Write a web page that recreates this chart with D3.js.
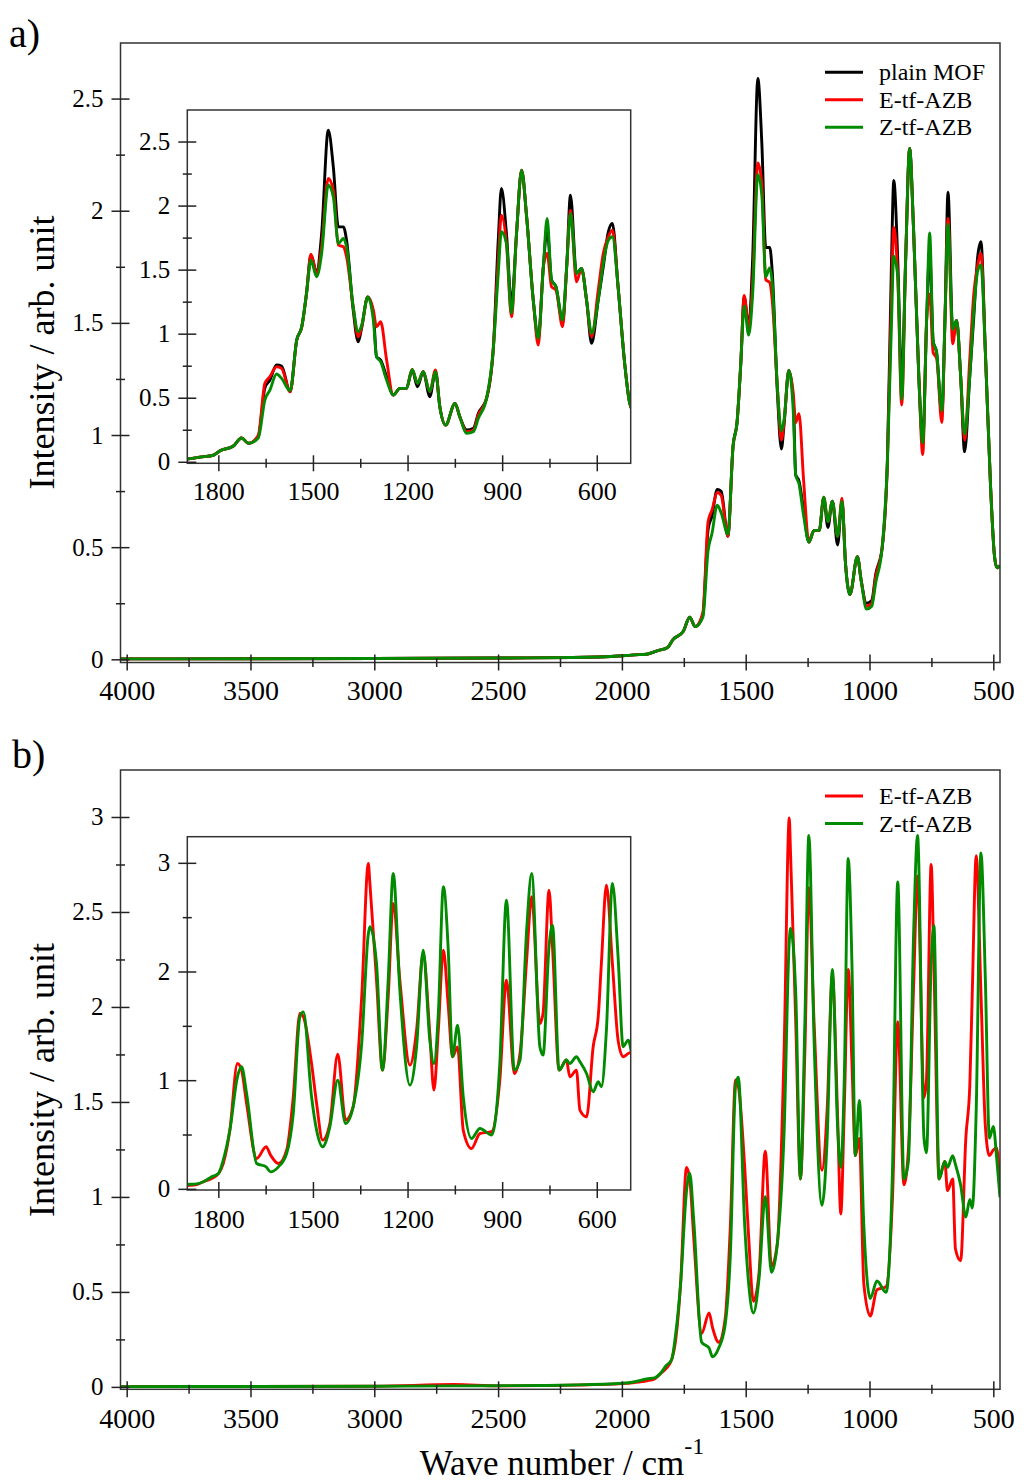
<!DOCTYPE html>
<html><head><meta charset="utf-8">
<script src="https://cdn.jsdelivr.net/npm/d3@7"></script>
<style>body{margin:0;background:#fff}svg{display:block}</style>
</head><body>
<svg id="chart" width="1029" height="1483"></svg>
<script>
// ---------- DATA ----------
// Panel a: wavenumber grid (cm^-1) and three series
const wnA = [4025,3800,3500,3000,2500,2200,2000,1950,1902,1860,1817,1796,1754,1728,1706,1675,1654,1638,1617,1601,1574,1553,1537,1522,1508,1490,1474,1453,1437,1421,1405,1395,1374,1358,1347,1328,1310,1300,1287,1268,1247,1226,1205,1187,1170,1152,1131,1113,1099,1081,1051,1036,1014,993,977,951,930,914,904,888,872,856,840,824,803,787,771,759,745,731,710,697,685,666,650,634,618,597,581,565,552,534,513,497,487,475];
const plainMOF = [0.004,0.004,0.005,0.006,0.008,0.010,0.018,0.022,0.025,0.040,0.055,0.090,0.127,0.190,0.148,0.200,0.580,0.642,0.759,0.751,0.551,0.954,1.058,1.318,1.617,1.487,1.786,2.592,2.306,1.838,1.838,1.734,1.190,0.940,1.050,1.290,1.162,0.824,0.798,0.668,0.525,0.577,0.577,0.720,0.590,0.707,0.512,0.707,0.430,0.291,0.460,0.356,0.252,0.265,0.382,0.499,0.876,1.734,2.137,1.786,1.240,1.786,2.280,1.916,1.266,0.980,1.526,1.825,1.422,1.370,1.097,1.526,2.085,1.474,1.513,1.266,0.928,1.266,1.526,1.799,1.864,1.370,0.770,0.460,0.410,0.420];
const eTfAzbA = [0.004,0.004,0.005,0.006,0.008,0.010,0.018,0.022,0.025,0.040,0.055,0.090,0.127,0.190,0.148,0.210,0.616,0.668,0.746,0.733,0.551,0.954,1.058,1.318,1.625,1.474,1.682,2.215,2.124,1.695,1.682,1.604,1.214,0.980,1.060,1.290,1.188,1.058,1.097,0.798,0.525,0.577,0.577,0.725,0.616,0.707,0.550,0.720,0.430,0.291,0.460,0.356,0.239,0.252,0.370,0.499,0.876,1.578,1.929,1.708,1.136,1.786,2.280,1.916,1.266,0.915,1.526,1.630,1.370,1.344,1.058,1.526,1.968,1.409,1.513,1.266,0.980,1.344,1.630,1.760,1.812,1.370,0.770,0.460,0.410,0.420];
const zTfAzbA = [0.004,0.004,0.005,0.006,0.008,0.010,0.018,0.022,0.025,0.040,0.055,0.090,0.127,0.190,0.148,0.190,0.486,0.564,0.689,0.655,0.560,0.954,1.058,1.318,1.578,1.448,1.630,2.163,2.072,1.708,1.747,1.682,1.214,1.020,1.070,1.290,1.110,0.824,0.785,0.642,0.525,0.577,0.577,0.725,0.616,0.707,0.550,0.707,0.430,0.291,0.460,0.356,0.226,0.239,0.343,0.499,0.876,1.474,1.799,1.708,1.162,1.786,2.280,1.916,1.266,0.967,1.526,1.903,1.422,1.370,1.110,1.526,1.942,1.474,1.513,1.266,1.006,1.266,1.552,1.734,1.760,1.370,0.770,0.460,0.410,0.420];

// Panel b: wavenumber grid and two series
const wnB = [4025,3500,3000,2680,2500,2200,2000,1950,1902,1870,1849,1823,1801,1786,1765,1741,1728,1712,1680,1650,1636,1611,1585,1564,1543,1532,1506,1490,1471,1448,1423,1398,1374,1347,1326,1321,1300,1281,1263,1247,1226,1194,1173,1152,1131,1118,1104,1088,1073,1059,1043,1025,999,972,935,909,888,863,845,824,808,782,772,753,742,721,698,687,666,655,634,613,597,587,571,552,534,518,502,488,475];
const eTfAzbB = [0.004,0.005,0.006,0.015,0.008,0.012,0.020,0.026,0.035,0.045,0.070,0.100,0.146,0.238,0.545,1.158,1.097,0.790,0.284,0.392,0.315,0.238,0.361,0.851,1.618,1.587,1.158,0.790,0.453,0.606,1.244,0.637,0.760,1.772,2.998,2.814,1.925,1.097,1.772,2.630,1.925,1.143,1.465,2.170,1.434,0.913,1.465,2.200,1.710,1.220,1.310,0.545,0.376,0.514,0.530,1.005,1.925,1.066,1.250,2.109,2.692,1.526,1.618,2.753,2.232,1.097,1.190,1.036,1.097,0.729,0.667,1.312,1.588,2.078,2.799,2.078,1.373,1.220,1.250,1.260,1.020];
const zTfAzbB = [0.004,0.005,0.006,0.008,0.009,0.013,0.022,0.030,0.045,0.050,0.070,0.115,0.146,0.269,0.545,1.035,1.128,0.882,0.238,0.207,0.161,0.207,0.330,0.698,1.587,1.633,0.852,0.545,0.392,0.575,1.005,0.606,0.760,1.342,2.350,2.416,2.078,1.097,1.925,2.906,1.833,0.959,1.312,2.200,1.373,1.158,1.618,2.784,2.232,1.220,1.511,0.852,0.468,0.560,0.500,1.158,2.661,1.097,1.189,2.385,2.906,1.312,1.235,2.232,2.431,1.097,1.190,1.158,1.220,1.174,1.066,0.897,0.990,0.944,1.465,2.814,2.140,1.312,1.373,1.200,1.000];

// Tick values and labels
const mainXTicks = [4000,3500,3000,2500,2000,1500,1000,500];
const mainXMinor = [3750,3250,2750,2250,1750,1250,750];
const insetXTicks = [1800,1500,1200,900,600];
const insetXMinor = [1650,1350,1050,750];
const yTicksA = [0,0.5,1,1.5,2,2.5];
const yMinorA = [0.25,0.75,1.25,1.75,2.25];
const yTicksB = [0,0.5,1,1.5,2,2.5,3];
const yMinorB = [0.25,0.75,1.25,1.75,2.25,2.75];
const insetYTicksB = [0,1,2,3];
const insetYMinorB = [0.5,1.5,2.5];

const legendA = ["plain MOF","E-tf-AZB","Z-tf-AZB"];
const legendB = ["E-tf-AZB","Z-tf-AZB"];
const colBlack = "#000000", colRed = "#ff0000", colGreen = "#008b00";

// ---------- DRAW ----------
const svg = d3.select("#chart");
const FONT = "'Liberation Serif','Times New Roman',serif";
let clipId = 0;

function drawBox(cfg) {
  const g = svg.append("g");
  const x = d3.scaleLinear().domain(cfg.xDomain).range([cfg.left, cfg.right]);
  const y = d3.scaleLinear().domain(cfg.yDomain).range([cfg.bottom, cfg.top]);
  g.append("rect").attr("x", cfg.left).attr("y", cfg.top)
    .attr("width", cfg.right - cfg.left).attr("height", cfg.bottom - cfg.top)
    .attr("fill", "#fff");
  const id = "clip" + (clipId++);
  svg.append("clipPath").attr("id", id).append("rect")
    .attr("x", cfg.left).attr("y", cfg.top)
    .attr("width", cfg.right - cfg.left).attr("height", cfg.bottom - cfg.top);
  const lines = g.append("g").attr("clip-path", `url(#${id})`);
  const line = d3.line().x(d => x(d[0])).y(d => y(d[1])).curve(d3.curveMonotoneX);
  cfg.series.forEach(s => {
    lines.append("path").datum(s.wn.map((w, i) => [w, s.vals[i]]))
      .attr("d", line).attr("fill", "none").attr("stroke", s.color)
      .attr("stroke-width", 2.9).attr("stroke-linejoin", "round");
  });
  g.append("rect").attr("x", cfg.left).attr("y", cfg.top)
    .attr("width", cfg.right - cfg.left).attr("height", cfg.bottom - cfg.top)
    .attr("fill", "none").attr("stroke", "#333").attr("stroke-width", 1.5);
  const tk = g.append("g").attr("stroke", "#222").attr("stroke-width", 1.5);
  cfg.xMajor.forEach(v => tk.append("line").attr("x1", x(v)).attr("x2", x(v)).attr("y1", cfg.bottom - 8).attr("y2", cfg.bottom + 8));
  cfg.xMinor.forEach(v => tk.append("line").attr("x1", x(v)).attr("x2", x(v)).attr("y1", cfg.bottom - 4.5).attr("y2", cfg.bottom + 4.5));
  cfg.yMajor.forEach(v => tk.append("line").attr("y1", y(v)).attr("y2", y(v)).attr("x1", cfg.left - 9).attr("x2", cfg.left + 9));
  cfg.yMinor.forEach(v => tk.append("line").attr("y1", y(v)).attr("y2", y(v)).attr("x1", cfg.left - 4.5).attr("x2", cfg.left + 4.5));
  cfg.xMajor.forEach(v => g.append("text").attr("x", x(v)).attr("y", cfg.bottom + cfg.xLabOff)
    .attr("text-anchor", "middle").attr("font-family", FONT).attr("font-size", cfg.xFont).text(String(v)));
  cfg.yMajor.forEach(v => g.append("text").attr("x", cfg.left - 17).attr("y", y(v) + 8)
    .attr("text-anchor", "end").attr("font-family", FONT).attr("font-size", 25).text(String(v)));
  return {x, y};
}

function legend(items, colors, y0) {
  items.forEach((t, i) => {
    const yy = y0 + i * 27.5;
    svg.append("line").attr("x1", 825).attr("x2", 863).attr("y1", yy).attr("y2", yy)
      .attr("stroke", colors[i]).attr("stroke-width", 3);
    svg.append("text").attr("x", 879).attr("y", yy + 8).attr("font-family", FONT)
      .attr("font-size", 24).text(t);
  });
}

// Panel a main
drawBox({left: 120.5, right: 1000, top: 43, bottom: 662.5,
  xDomain: [4027, 475], yDomain: [-0.012, 2.75],
  xMajor: mainXTicks, xMinor: mainXMinor, yMajor: yTicksA, yMinor: yMinorA,
  xFont: 28, xLabOff: 37,
  series: [{wn: wnA, vals: plainMOF, color: colBlack}, {wn: wnA, vals: eTfAzbA, color: colRed}, {wn: wnA, vals: zTfAzbA, color: colGreen}]});
// Panel a inset
drawBox({left: 187.3, right: 630.7, top: 110, bottom: 463.3,
  xDomain: [1900, 494], yDomain: [-0.008, 2.75],
  xMajor: insetXTicks, xMinor: insetXMinor, yMajor: yTicksA, yMinor: yMinorA,
  xFont: 26, xLabOff: 37,
  series: [{wn: wnA, vals: plainMOF, color: colBlack}, {wn: wnA, vals: eTfAzbA, color: colRed}, {wn: wnA, vals: zTfAzbA, color: colGreen}]});
legend(legendA, [colBlack, colRed, colGreen], 72.3);

// Panel b main
drawBox({left: 120.5, right: 1000, top: 770, bottom: 1389.3,
  xDomain: [4027, 475], yDomain: [-0.01, 3.25],
  xMajor: mainXTicks, xMinor: mainXMinor, yMajor: yTicksB, yMinor: yMinorB,
  xFont: 28, xLabOff: 39,
  series: [{wn: wnB, vals: eTfAzbB, color: colRed}, {wn: wnB, vals: zTfAzbB, color: colGreen}]});
// Panel b inset
drawBox({left: 187.3, right: 630.7, top: 836.7, bottom: 1190,
  xDomain: [1900, 494], yDomain: [-0.006, 3.245],
  xMajor: insetXTicks, xMinor: insetXMinor, yMajor: insetYTicksB, yMinor: insetYMinorB,
  xFont: 26, xLabOff: 38,
  series: [{wn: wnB, vals: eTfAzbB, color: colRed}, {wn: wnB, vals: zTfAzbB, color: colGreen}]});
legend(legendB, [colRed, colGreen], 796);

// Axis titles and panel labels
[352.5, 1080].forEach(cy => {
  svg.append("text").attr("transform", `translate(54,${cy}) rotate(-90)`)
    .attr("text-anchor", "middle").attr("font-family", FONT).attr("font-size", 36)
    .text("Intensity / arb. unit");
});
const xt = svg.append("text").attr("x", 562).attr("y", 1475).attr("text-anchor", "middle")
  .attr("font-family", FONT).attr("font-size", 35);
xt.append("tspan").text("Wave number / cm");
xt.append("tspan").attr("dy", -21).attr("font-size", 24).text("-1");

svg.append("text").attr("x", 9).attr("y", 47).attr("font-family", FONT).attr("font-size", 40).text("a)");
svg.append("text").attr("x", 12).attr("y", 768).attr("font-family", FONT).attr("font-size", 40).text("b)");
</script>
</body></html>
